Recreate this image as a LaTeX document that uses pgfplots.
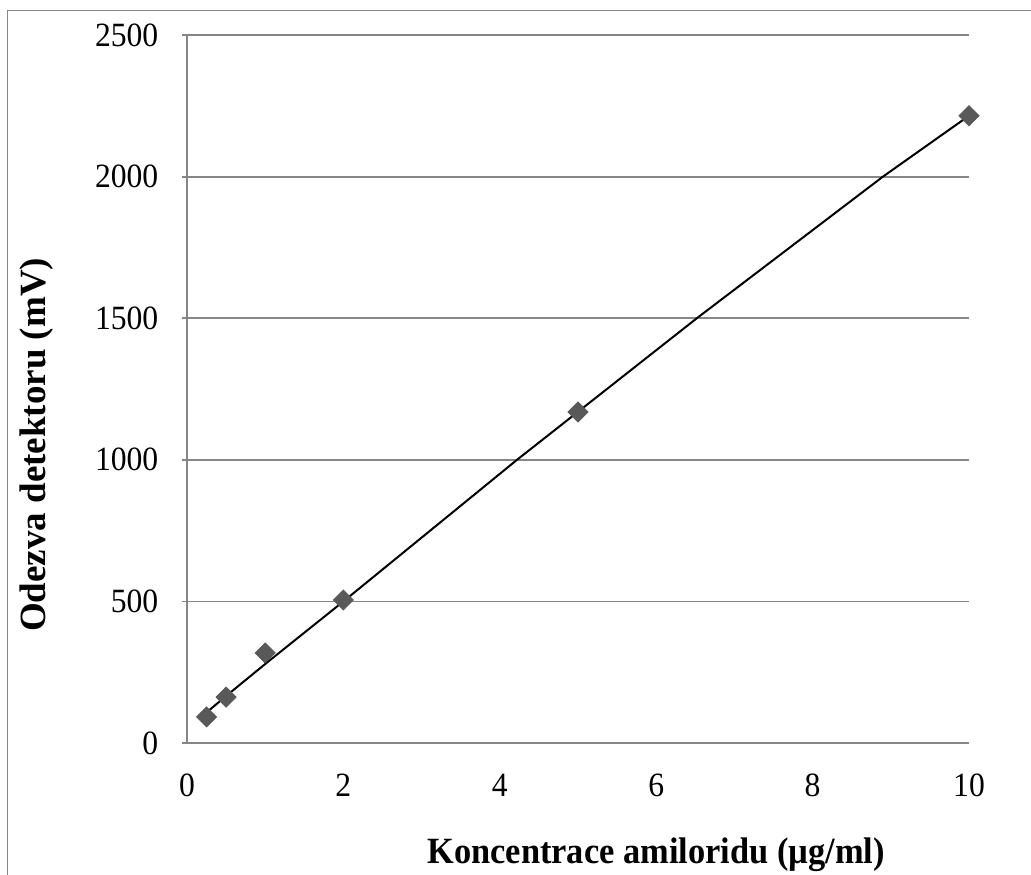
\documentclass[border=0pt]{standalone}
\usepackage{fontspec}
\setmainfont{Liberation Serif}[FakeStretch=0.93]
\newfontfamily\uprightlabel{Liberation Serif}
\usepackage{pgfplots}
\pgfplotsset{compat=1.18}
\definecolor{axisgray}{HTML}{868686}
\definecolor{markgray}{HTML}{595959}
\begin{document}
\fontsize{17}{20}\selectfont
\begin{tikzpicture}
\useasboundingbox (-93.5pt,-65.5pt) rectangle (422pt,371.5pt);
% chart frame
\draw[axisgray, line width=0.9pt] (-89.75pt,-70pt) -- (-89.75pt,366.25pt) -- (430pt,366.25pt);
\begin{axis}[
  at={(0pt,0pt)}, anchor=south west,
  scale only axis, width=391pt, height=354pt,
  xmin=0, xmax=10, ymin=0, ymax=2500,
  xtick={0,2,...,10}, ytick={0,500,...,2500},
  axis lines*=left,
  axis line style={axisgray, line width=0.9pt},
  ymajorgrids, grid style={axisgray, line width=0.9pt},
  tick align=outside, major tick length=2.5pt,
  ytick style={axisgray, line width=0.9pt},
  xtick style={draw=none},
  tick label style={font=\fontsize{17}{20}\selectfont},
  /pgf/number format/assume math mode=true,
  /pgf/number format/1000 sep={},
  xticklabel style={yshift=-7pt},
  yticklabel style={xshift=-6pt},
  xlabel={\bfseries Koncentrace amiloridu (µg/ml)},
  ylabel={\uprightlabel\bfseries Odezva detektoru (mV)},
  xlabel style={at={(axis description cs:0.6,-0.158)}, anchor=center, font=\fontsize{18.5}{22}\selectfont},
  ylabel style={at={(axis description cs:-0.192,0.421)}, anchor=center, font=\fontsize{18.5}{22}\selectfont},
  clip=false,
]
% trend line
\addplot[black, line width=1pt] coordinates {
  (0.25,108) (0.5,166) (1,279) (2,500) (4.22,1000) (6.52,1500) (8.9,2000) (10,2215)
};
% measured points
\addplot[only marks, mark=square*, mark size=3.54pt,
  mark options={rotate=45, fill=markgray, draw=markgray}] coordinates {
  (0.25,92) (0.5,162) (1,318) (2,505) (5,1169) (10,2215)
};
\end{axis}
\end{tikzpicture}
\end{document}
